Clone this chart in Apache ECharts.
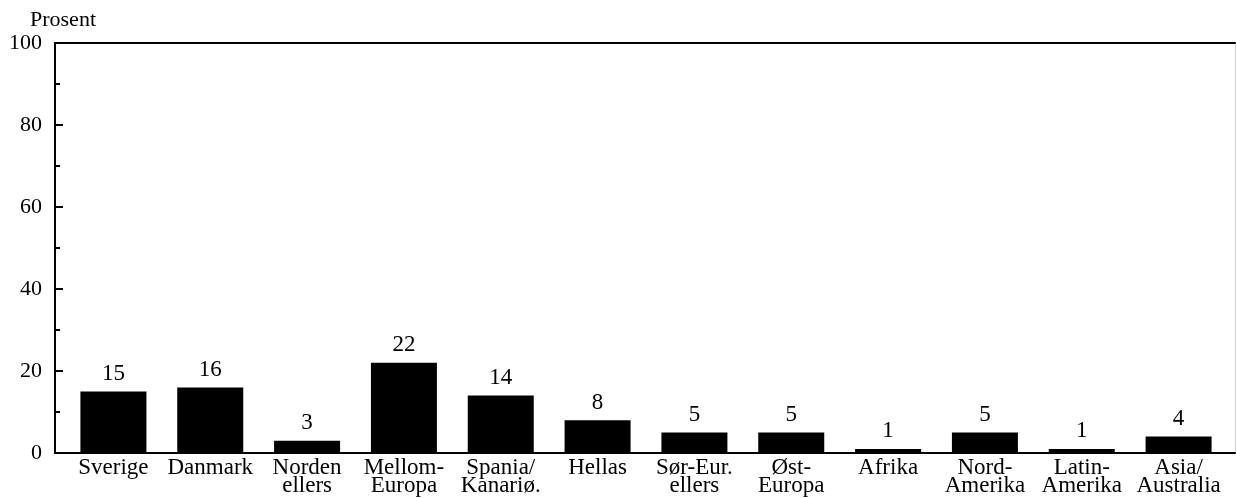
<!DOCTYPE html>
<html>
<head>
<meta charset="utf-8">
<script src="https://cdn.jsdelivr.net/npm/echarts@6/dist/echarts.min.js"></script>
<style>html,body{margin:0;padding:0;background:#fff}#c{width:1236px;height:498px}</style>
</head>
<body>
<div id="c"></div>
<script>
const categories = ['Sverige', 'Danmark', 'Norden\nellers', 'Mellom-\nEuropa', 'Spania/\nKanariø.', 'Hellas', 'Sør-Eur.\nellers', 'Øst-\nEuropa', 'Afrika', 'Nord-\nAmerika', 'Latin-\nAmerika', 'Asia/\nAustralia'];
const values = [15, 16, 3, 22, 14, 8, 5, 5, 1, 5, 1, 4];
const yTicks = [0, 20, 40, 60, 80, 100];
const yTitle = 'Prosent';

const FONT = '"Liberation Serif", "DejaVu Serif", serif';
const chart = echarts.init(document.getElementById('c'), null, {renderer: 'canvas'});
chart.setOption({
  animation: false,
  backgroundColor: '#fff',
  title: {
    text: yTitle, left: 25, top: 4,
    textStyle: {fontFamily: FONT, fontSize: 22, fontWeight: 'normal', color: '#000'}
  },
  grid: [
    {left: 55, right: 1, top: 43, bottom: 45},
    {left: 65, right: 9, top: 43, bottom: 45}
  ],
  xAxis: [
    {gridIndex: 0, type: 'value', position: 'bottom', min: 0, max: 1,
     axisLine: {show: true, onZero: false, lineStyle: {color: '#000', width: 2}},
     axisTick: {show: false}, axisLabel: {show: false}, splitLine: {show: false}},
    {gridIndex: 0, type: 'value', position: 'top', min: 0, max: 1,
     axisLine: {show: true, onZero: false, lineStyle: {color: '#000', width: 2}},
     axisTick: {show: false}, axisLabel: {show: false}, splitLine: {show: false}},
    {gridIndex: 1, type: 'category', data: categories,
     axisLine: {show: false}, axisTick: {show: false},
     axisLabel: {interval: 0, margin: 6, color: '#000', fontFamily: FONT, fontSize: 23, lineHeight: 18}}
  ],
  yAxis: [
    {gridIndex: 0, type: 'value', position: 'left', min: yTicks[0], max: yTicks[yTicks.length - 1], interval: 20,
     axisLine: {show: true, onZero: false, lineStyle: {color: '#000', width: 2}},
     axisTick: {show: true, inside: true, length: 8, lineStyle: {color: '#000', width: 2}},
     minorTick: {show: true, splitNumber: 2, length: 5, lineStyle: {color: '#000', width: 2}},
     axisLabel: {margin: 13, color: '#000', fontFamily: FONT, fontSize: 22},
     splitLine: {show: false}},
    {gridIndex: 0, type: 'value', position: 'right', min: 0, max: 100,
     axisLine: {show: true, onZero: false, lineStyle: {color: '#d0d0d0', width: 1}},
     axisTick: {show: false}, axisLabel: {show: false}, splitLine: {show: false}},
    {gridIndex: 1, type: 'value', min: 0, max: 100, show: false}
  ],
  series: [{
    type: 'bar', xAxisIndex: 2, yAxisIndex: 2,
    data: values, barWidth: 66,
    itemStyle: {color: '#000'},
    label: {show: true, position: 'top', distance: 6, color: '#000', fontFamily: FONT, fontSize: 23}
  }]
});
</script>
</body>
</html>
